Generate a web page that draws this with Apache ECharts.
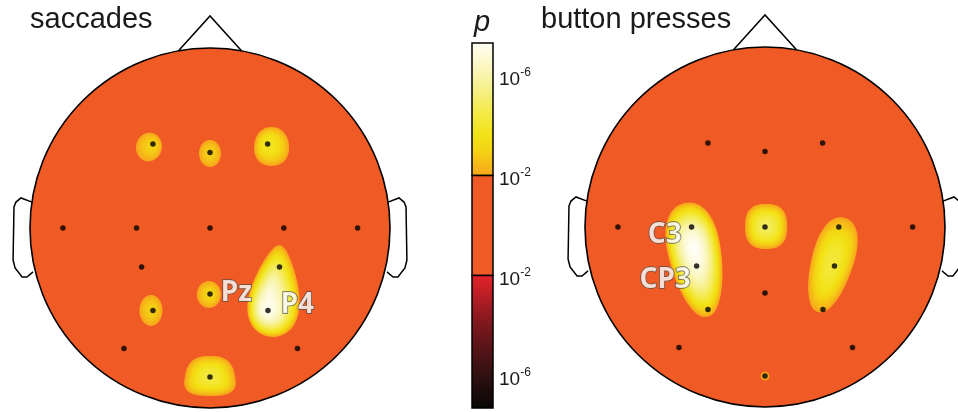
<!DOCTYPE html>
<html><head><meta charset="utf-8">
<script src="https://cdn.jsdelivr.net/npm/echarts@6/dist/echarts.min.js"></script>
<style>html,body{margin:0;padding:0;background:#fff}#c{width:958px;height:412px}</style>
</head><body><div id="c"></div>
<script>
// ---------------- DATA ----------------
const panelTitles = ['saccades', 'button presses'];
const colorbarTitle = 'p';

// electrode montage (head units, nose up, radius 1)
const electrodeNames = ['F3','Fz','F4','T7','C3','Cz','C4','T8','CP3','CP4','Pz','P3','P4','PO7','PO8','Oz'];
const electrodeX = [-0.317, 0, 0.32, -0.817, -0.408, 0, 0.41, 0.82, -0.38, 0.386, 0, -0.317, 0.322, -0.478, 0.486, 0];
const electrodeY = [0.467, 0.42, 0.467, 0, 0, 0, 0, 0, -0.217, -0.217, -0.367, -0.459, -0.459, -0.67, -0.67, -0.828];

// labelled electrodes per panel
const saccadeLabels = ['Pz', 'P4'];
const buttonLabels = ['C3', 'CP3'];

// significant clusters: [centreX, centreY, halfWidth, halfHeight, tiltDeg, taper, squareness, peakOffsetX, peakOffsetY, peak -log10(p)]
const saccadeClusters = [
  [-0.339, 0.45, 0.072, 0.08, -12, 0, 2, 0.3, -0.2, 3.1],     // F3
  [0, 0.414, 0.061, 0.075, 0, 0, 2, 0, 0, 3.0],               // Fz
  [0.342, 0.453, 0.097, 0.108, 0, 0.05, 2.2, -0.2, -0.13, 3.9],// F4
  [-0.006, -0.369, 0.067, 0.075, 0, 0, 2, 0.1, 0, 3.2],       // Pz
  [-0.328, -0.458, 0.064, 0.086, 0, 0, 2, 0.1, 0, 3.0],       // P3
  [0.361, -0.35, 0.135, 0.256, -6, 0.4, 2, -0.25, 0.42, 7.2], // CP4/P4
  [0, -0.822, 0.139, 0.111, 0, 0.15, 2.8, 0, 0.05, 4.4]       // Oz
];
const buttonClusters = [
  [-0.383, -0.183, 0.144, 0.322, 11, -0.2, 2.2, 0, -0.2, 7.3], // C3/CP3/P3
  [0.006, 0.003, 0.117, 0.125, 0, 0, 2.6, 0, 0, 4.9],          // Cz
  [0.369, -0.211, 0.115, 0.272, -16, -0.15, 2.2, 0, -0.05, 4.3],// C4/CP4/P4
  [0, -0.828, 0.024, 0.024, 0, 0, 2, 0, 0, 2.4]                 // Oz
];

// colorbar (signed -log10 p)
const cbarTickValues = [6, 2, -2, -6];
const cbarTickExponents = ['-6', '-2', '-2', '-6'];
const cbarExtent = [-7.3, 7.3];
const sigLevel = 2;
const cbarSegments = [[sigLevel, cbarExtent[1]], [-sigLevel, sigLevel], [cbarExtent[0], -sigLevel]];

// head outline template (head units)
const noseOutline = [[-0.175, 0.985], [0, 1.178], [0.175, 0.985]];
const earOutline = [[-0.989,0.144],[-1.05,0.167],[-1.078,0.144],[-1.089,0.117],[-1.094,-0.178],[-1.083,-0.222],[-1.044,-0.272],[-1.017,-0.272],[-0.983,-0.244]];

// ---------------- STYLE ----------------
const headColor = '#f05a24';
const posStops = [[2,[247,166,28]],[2.5,[246,188,24]],[3,[244,210,20]],[3.6,[242,226,22]],[4.5,[243,234,70]],[5.5,[246,240,140]],[6.3,[250,246,190]],[7.3,[255,254,246]]];
const negStops = [[-7.3,[8,6,6]],[-6,[47,16,17]],[-4,[122,24,29]],[-3,[176,29,37]],[-2,[229,35,41]]];
const labelPlacement = {
  Pz: {position: 'right', distance: 8, offset: [0, -1]},
  P4: {position: 'right', distance: 10, offset: [0, -6]},
  C3: {position: 'left', distance: 7, offset: [0, 8]},
  CP3: {position: 'left', distance: 3, offset: [0, 14]}
};

function cmap(v) {
  const st = v >= 0 ? posStops : negStops;
  if (v <= st[0][0]) return rgb(st[0][1]);
  if (v >= st[st.length - 1][0]) return rgb(st[st.length - 1][1]);
  for (let i = 0; i < st.length - 1; i++) {
    const a = st[i], b = st[i + 1];
    if (v >= a[0] && v <= b[0]) {
      const f = (v - a[0]) / (b[0] - a[0]);
      return rgb([0, 1, 2].map(j => a[1][j] + (b[1][j] - a[1][j]) * f));
    }
  }
}
function rgb(c) { return 'rgb(' + c.map(x => Math.round(x)).join(',') + ')'; }

// ---------------- RENDERERS ----------------
function renderHead(params, api) {
  const c = api.coord([0, 0]);
  const r = api.size([1, 1])[0];
  const pts = arr => arr.map(p => api.coord(p));
  const line = {stroke: '#000', lineWidth: 1.5, fill: null};
  return {type: 'group', children: [
    {type: 'polyline', shape: {points: pts(earOutline)}, style: line},
    {type: 'polyline', shape: {points: pts(earOutline.map(p => [-p[0], p[1]]))}, style: line},
    {type: 'polyline', shape: {points: pts(noseOutline)}, style: line},
    {type: 'circle', shape: {cx: c[0], cy: c[1], r: r}, style: {fill: headColor, stroke: '#000', lineWidth: 1.6}}
  ]};
}

function renderCluster(params, api) {
  const c = api.coord([api.value(0), api.value(1)]);
  const sz = api.size([api.value(2), api.value(3)]);
  const rx = sz[0], ry = sz[1];
  const rot = api.value(4) * Math.PI / 180, k = api.value(5), n = api.value(6);
  const hx = api.value(7), hy = api.value(8), peak = api.value(9);
  const co = Math.cos(rot), si = Math.sin(rot);
  const toScreen = (lx, ly) => { const x = lx * rx, y = ly * ry; return [c[0] + x * co + y * si, c[1] - x * si + y * co]; };
  const outline = [];
  const M = 96;
  for (let i = 0; i < M; i++) {
    const t = i / M * 2 * Math.PI;
    const ct = Math.cos(t), st = Math.sin(t);
    const cc = Math.sign(ct) * Math.pow(Math.abs(ct), 2 / n);
    const ss = Math.sign(st) * Math.pow(Math.abs(st), 2 / n);
    outline.push(toScreen(cc * (1 - k * ss), -ss));
  }
  const hot = toScreen(hx, hy);
  const N = Math.max(6, Math.round(Math.max(rx, ry) / 1.1));
  const children = [];
  for (let j = 0; j < N; j++) {
    const s = 1 - j / N;
    const v = sigLevel + (peak - sigLevel) * (1 - s * s);
    children.push({type: 'polygon', silent: true,
      shape: {points: outline.map(p => [hot[0] + s * (p[0] - hot[0]), hot[1] + s * (p[1] - hot[1])])},
      style: {fill: cmap(v)}});
  }
  return {type: 'group', children: children};
}

function renderSegment(params, api) {
  const lo = api.value(0), hi = api.value(1);
  const p0 = api.coord([0, hi]), p1 = api.coord([1, lo]);
  let fill;
  if (lo === -sigLevel && hi === sigLevel) fill = headColor;
  else {
    const stops = [];
    for (let i = 0; i <= 20; i++) { const f = i / 20; stops.push({offset: f, color: cmap(hi - (hi - lo) * f)}); }
    fill = {type: 'linear', x: 0, y: 0, x2: 0, y2: 1, colorStops: stops};
  }
  return {type: 'rect', shape: {x: p0[0], y: p0[1], width: p1[0] - p0[0], height: p1[1] - p0[1]},
    style: {fill: fill, stroke: '#000', lineWidth: 1.5}};
}

function electrodeData(labels) {
  return electrodeNames.map((nm, i) => {
    const item = {name: nm, value: [electrodeX[i], electrodeY[i]]};
    if (labels.indexOf(nm) >= 0) {
      const lp = labelPlacement[nm];
      item.label = {show: true, formatter: nm, position: lp.position, distance: lp.distance, offset: lp.offset};
    }
    return item;
  });
}

// ---------------- OPTION ----------------
const titleStyle = {fontSize: 29, fontWeight: 'normal', fontFamily: 'Liberation Sans, Arial, sans-serif', color: '#1a1a1a'};
const labelText = {color: '#ffffff', fontFamily: 'Noto Sans, Open Sans, sans-serif', fontWeight: 'bold', fontSize: 28,
  textBorderColor: '#444444', textBorderWidth: 1.4};

const hiddenAxis = {type: 'value', min: -1, max: 1, show: false};
const cbFont = 'Liberation Sans, Arial, sans-serif';

const option = {
  animation: false,
  backgroundColor: '#fff',
  title: [
    {text: panelTitles[0], left: 30, top: 5, padding: 0, textStyle: titleStyle},
    {text: panelTitles[1], left: 541, top: 5, padding: 0, textStyle: titleStyle},
    {text: colorbarTitle, left: 474, top: 8, padding: 0, textStyle: Object.assign({}, titleStyle, {fontStyle: 'italic'})}
  ],
  grid: [
    {left: 30, top: 48, width: 360, height: 360},
    {left: 585, top: 47, width: 360, height: 360},
    {left: 472, top: 43, width: 21, height: 365}
  ],
  xAxis: [
    Object.assign({gridIndex: 0}, hiddenAxis),
    Object.assign({gridIndex: 1}, hiddenAxis),
    {gridIndex: 2, type: 'value', min: 0, max: 1, show: false}
  ],
  yAxis: [
    Object.assign({gridIndex: 0}, hiddenAxis),
    Object.assign({gridIndex: 1}, hiddenAxis),
    {gridIndex: 2, type: 'value', min: cbarExtent[0], max: cbarExtent[1], position: 'right',
      axisLine: {show: false}, splitLine: {show: false},
      axisTick: {show: true, customValues: cbarTickValues, length: 4, lineStyle: {color: '#000', width: 1.3}},
      axisLabel: {show: true, customValues: cbarTickValues, margin: 6, padding: [8, 0, 0, 0],
        formatter: function (val) {
          let bi = 0;
          cbarTickValues.forEach((t, i) => { if (Math.abs(t - val) < Math.abs(cbarTickValues[bi] - val)) bi = i; });
          return '{b|10}{s|' + cbarTickExponents[bi] + '}';
        },
        rich: {
          b: {fontSize: 19, lineHeight: 26, fontFamily: cbFont, color: '#1a1a1a'},
          s: {fontSize: 12, lineHeight: 11, verticalAlign: 'top', fontFamily: cbFont, color: '#1a1a1a'}
        }}},
    {gridIndex: 2, type: 'value', min: cbarExtent[0], max: cbarExtent[1], position: 'left',
      axisLine: {show: false}, splitLine: {show: false}, axisLabel: {show: false},
      axisTick: {show: true, inside: true, customValues: [cbarTickValues[0], cbarTickValues[3]], length: 5, lineStyle: {color: '#000', width: 1.3}}},
    {gridIndex: 2, type: 'value', min: cbarExtent[0], max: cbarExtent[1], position: 'right', offset: 0,
      axisLine: {show: false}, splitLine: {show: false}, axisLabel: {show: false},
      axisTick: {show: true, inside: true, customValues: [cbarTickValues[0], cbarTickValues[3]], length: 5, lineStyle: {color: '#000', width: 1.3}}}
  ],
  series: [
    {type: 'custom', xAxisIndex: 0, yAxisIndex: 0, z: 1, silent: true, renderItem: renderHead, data: [[0, 0]]},
    {type: 'custom', xAxisIndex: 1, yAxisIndex: 1, z: 1, silent: true, renderItem: renderHead, data: [[0, 0]]},
    {type: 'custom', xAxisIndex: 0, yAxisIndex: 0, z: 2, silent: true, renderItem: renderCluster, data: saccadeClusters},
    {type: 'custom', xAxisIndex: 1, yAxisIndex: 1, z: 2, silent: true, renderItem: renderCluster, data: buttonClusters},
    {type: 'scatter', xAxisIndex: 0, yAxisIndex: 0, z: 3, silent: true, symbolSize: 5.5, itemStyle: {color: '#000'},
      label: Object.assign({show: false}, labelText), data: electrodeData(saccadeLabels)},
    {type: 'scatter', xAxisIndex: 1, yAxisIndex: 1, z: 3, silent: true, symbolSize: 5.5, itemStyle: {color: '#000'},
      label: Object.assign({show: false}, labelText), data: electrodeData(buttonLabels)},
    {type: 'custom', xAxisIndex: 2, yAxisIndex: 2, z: 2, silent: true, renderItem: renderSegment, data: cbarSegments}
  ]
};

const chart = echarts.init(document.getElementById('c'), null, {renderer: 'canvas'});
chart.setOption(option);
</script>
</body></html>
